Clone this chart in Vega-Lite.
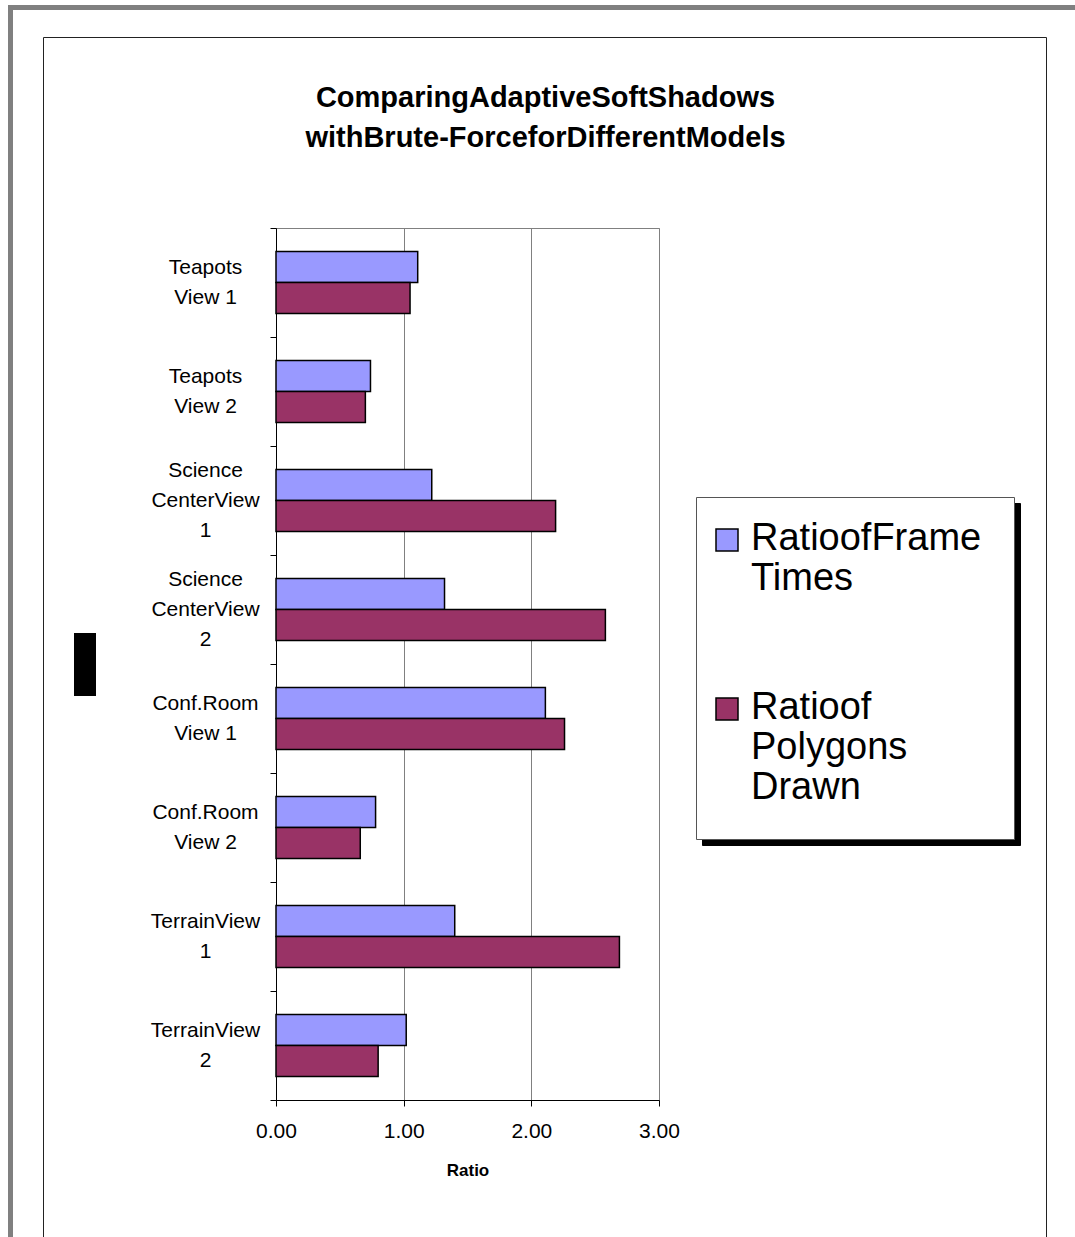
{
  "$schema": "https://vega.github.io/schema/vega-lite/v6.json",
  "width": 383,
  "height": 872,
  "autosize": {"type": "none"},
  "padding": {"left": 276, "top": 228, "right": 416, "bottom": 137},
  "background": "white",
  "config": {
    "font": "Liberation Sans",
    "view": {"stroke": "#808080", "strokeWidth": 1}
  },
  "title": {
    "text": ["ComparingAdaptiveSoftShadows", "withBrute-ForceforDifferentModels"],
    "font": "Liberation Sans",
    "fontSize": 29,
    "fontWeight": "bold",
    "lineHeight": 40,
    "color": "black",
    "anchor": "middle",
    "frame": "group",
    "dx": 78,
    "offset": -148
  },
  "data": {
    "values": [
      {"label": "Teapots|View 1", "series": "RatioofFrame|Times", "value": 1.11},
      {"label": "Teapots|View 1", "series": "Ratioof|Polygons|Drawn", "value": 1.05},
      {"label": "Teapots|View 2", "series": "RatioofFrame|Times", "value": 0.74},
      {"label": "Teapots|View 2", "series": "Ratioof|Polygons|Drawn", "value": 0.70},
      {"label": "Science|CenterView|1", "series": "RatioofFrame|Times", "value": 1.22},
      {"label": "Science|CenterView|1", "series": "Ratioof|Polygons|Drawn", "value": 2.19},
      {"label": "Science|CenterView|2", "series": "RatioofFrame|Times", "value": 1.32},
      {"label": "Science|CenterView|2", "series": "Ratioof|Polygons|Drawn", "value": 2.58},
      {"label": "Conf.Room|View 1", "series": "RatioofFrame|Times", "value": 2.11},
      {"label": "Conf.Room|View 1", "series": "Ratioof|Polygons|Drawn", "value": 2.26},
      {"label": "Conf.Room|View 2", "series": "RatioofFrame|Times", "value": 0.78},
      {"label": "Conf.Room|View 2", "series": "Ratioof|Polygons|Drawn", "value": 0.66},
      {"label": "TerrainView|1", "series": "RatioofFrame|Times", "value": 1.40},
      {"label": "TerrainView|1", "series": "Ratioof|Polygons|Drawn", "value": 2.69},
      {"label": "TerrainView|2", "series": "RatioofFrame|Times", "value": 1.02},
      {"label": "TerrainView|2", "series": "Ratioof|Polygons|Drawn", "value": 0.80}
    ]
  },
  "resolve": {
    "scale": {"fill": "independent", "stroke": "independent"},
    "legend": {"fill": "independent", "stroke": "independent"}
  },
  "layer": [
    {
      "mark": {"type": "bar", "stroke": "black", "strokeWidth": 1.5},
      "encoding": {
        "y": {
          "field": "label", "type": "nominal", "sort": null,
          "scale": {"paddingInner": 0, "paddingOuter": 0},
          "axis": {
            "title": null,
            "tickBand": "extent",
            "tickSize": 6,
            "tickColor": "black",
            "domainColor": "black",
            "labelExpr": "split(datum.label, '|')",
            "labelAlign": "center",
            "labelBaseline": "middle",
            "labelOffset": {"condition": {"test": "length(split(datum.value, '|')) == 3", "value": -30}, "value": -15},
            "labelPadding": 65,
            "labelFontSize": 21,
            "labelLineHeight": 30,
            "labelColor": "black",
            "labelLimit": 0
          }
        },
        "yOffset": {
          "field": "series", "type": "nominal", "sort": null,
          "scale": {"paddingInner": 0, "paddingOuter": 0.76}
        },
        "x": {
          "field": "value", "type": "quantitative",
          "scale": {"domain": [0, 3], "nice": false},
          "axis": {
            "title": "Ratio",
            "titleFontSize": 17,
            "titleFontWeight": "bold",
            "titleColor": "black",
            "titlePadding": 21,
            "values": [0, 1, 2, 3],
            "format": ".2f",
            "labelFlush": false,
            "labelFontSize": 21,
            "labelColor": "black",
            "labelPadding": 14,
            "tickSize": 6,
            "tickColor": "black",
            "domainColor": "black",
            "grid": true,
            "gridColor": "#808080",
            "gridWidth": 1
          }
        },
        "fill": {
          "field": "series", "type": "nominal", "sort": null,
          "scale": {"range": ["#9999ff", "#993366"]},
          "legend": {
            "title": "\u00a0",
            "titleOrient": "top",
            "titleFontSize": 1,
            "titlePadding": -9,
            "orient": "none",
            "legendX": 420,
            "legendY": 269,
            "direction": "vertical",
            "padding": 32,
            "fillColor": "white",
            "strokeColor": "#555555",
            "symbolType": "square",
            "symbolSize": 484,
            "symbolOffset": -20,
            "symbolStrokeColor": "black",
            "symbolStrokeWidth": 1.5,
            "symbolOpacity": 1,
            "labelExpr": "split(datum.label, '|')",
            "labelFontSize": 38,
            "labelLineHeight": 44,
            "labelColor": "black",
            "labelLimit": 0,
            "labelOffset": 5,
            "labelBaseline": "line-top",
            "rowPadding": 91,
            "encode": {"labels": {"update": {"dy": {"value": -21}}}},
            "zindex": 3
          }
        }
      }
    },
    {
      "mark": {"type": "bar", "opacity": 0},
      "encoding": {
        "y": {"field": "label", "type": "nominal", "sort": null},
        "yOffset": {"field": "series", "type": "nominal", "sort": null},
        "x": {"field": "value", "type": "quantitative"},
        "fill": {
          "field": "series", "type": "nominal", "sort": null,
          "scale": {"range": ["black", "black"]},
          "legend": {
            "title": "\u00a0",
            "titleOrient": "top",
            "titleFontSize": 1,
            "titlePadding": -9,
            "orient": "none",
            "legendX": 426,
            "legendY": 275,
            "direction": "vertical",
            "padding": 32,
            "fillColor": "black",
            "strokeColor": "black",
            "symbolType": "square",
            "symbolSize": 484,
            "symbolOffset": -20,
            "symbolStrokeColor": "black",
            "symbolStrokeWidth": 1.5,
            "symbolOpacity": 1,
            "labelExpr": "split(datum.label, '|')",
            "labelFontSize": 38,
            "labelLineHeight": 44,
            "labelColor": "black",
            "labelLimit": 0,
            "labelOffset": 5,
            "labelBaseline": "line-top",
            "rowPadding": 91,
            "encode": {"labels": {"update": {"dy": {"value": -21}}}},
            "zindex": 2
          }
        }
      }
    },
    {
      "mark": {"type": "point", "opacity": 0},
      "encoding": {
        "y": {"field": "label", "type": "nominal", "sort": null},
        "x": {"field": "value", "type": "quantitative"},
        "stroke": {
          "field": "value", "type": "quantitative",
          "scale": {"range": ["white", "white"]},
          "legend": {
            "title": null,
            "orient": "none",
            "legendX": -233,
            "legendY": -191,
            "direction": "vertical",
            "padding": 0,
            "gradientLength": 1300,
            "gradientThickness": 1003,
            "gradientOpacity": 0,
            "gradientStrokeWidth": 0,
            "labelExpr": "''",
            "labelOffset": 0,
            "labelFontSize": 1,
            "labelOpacity": 0,
            "strokeColor": "#222222",
            "zindex": 0
          }
        }
      }
    },
    {
      "mark": {"type": "point", "opacity": 0},
      "encoding": {
        "y": {"field": "label", "type": "nominal", "sort": null},
        "x": {"field": "value", "type": "quantitative"},
        "stroke": {
          "field": "value", "type": "quantitative",
          "scale": {"range": ["white", "white"]},
          "legend": {
            "title": null,
            "orient": "none",
            "legendX": -265.5,
            "legendY": -220.5,
            "direction": "vertical",
            "padding": 0,
            "gradientLength": 1400,
            "gradientThickness": 1200,
            "gradientOpacity": 0,
            "gradientStrokeWidth": 0,
            "labelExpr": "''",
            "labelOffset": 0,
            "labelFontSize": 1,
            "labelOpacity": 0,
            "strokeColor": "#808080",
            "encode": {"legend": {"update": {"strokeWidth": {"value": 5}}}},
            "zindex": 0
          }
        }
      }
    },
    {
      "mark": {"type": "point", "opacity": 0},
      "encoding": {
        "y": {"field": "label", "type": "nominal", "sort": null},
        "x": {"field": "value", "type": "quantitative"},
        "fill": {
          "field": "value", "type": "quantitative",
          "scale": {"range": ["black", "black"]},
          "legend": {
            "title": null,
            "orient": "none",
            "legendX": -202,
            "legendY": 405,
            "direction": "vertical",
            "padding": 0,
            "gradientLength": 63,
            "gradientThickness": 22,
            "gradientOpacity": 1,
            "gradientStrokeWidth": 0,
            "labelExpr": "''",
            "labelOffset": 0,
            "labelFontSize": 1,
            "labelOpacity": 0,
            "zindex": 1
          }
        }
      }
    }
  ]
}
